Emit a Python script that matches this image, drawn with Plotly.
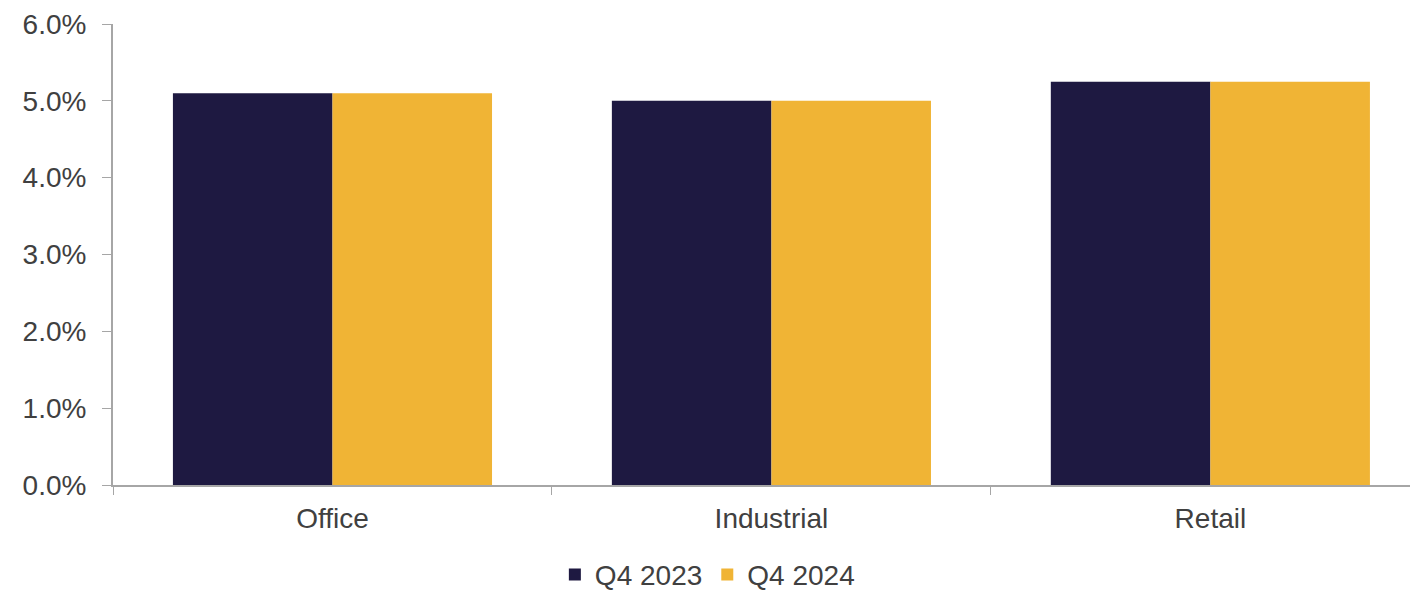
import plotly.graph_objects as go

categories = ["Office", "Industrial", "Retail"]
q4_2023 = [5.10, 5.00, 5.25]
q4_2024 = [5.10, 5.00, 5.25]
y_ticks = [0, 1, 2, 3, 4, 5, 6]
y_tick_labels = ["0.0%", "1.0%", "2.0%", "3.0%", "4.0%", "5.0%", "6.0%"]

font = dict(family="Liberation Sans, Arial, sans-serif", size=28, color="#404040")

fig = go.Figure()
fig.add_trace(go.Bar(name="Q4 2023", x=categories, y=q4_2023, marker=dict(color="#1e1941", line=dict(width=0))))
fig.add_trace(go.Bar(name="Q4 2024", x=categories, y=q4_2024, marker=dict(color="#f0b435", line=dict(width=0))))

fig.update_layout(
    width=1410, height=582,
    margin=dict(l=105, r=0, t=16, b=105, autoexpand=False),
    paper_bgcolor="white", plot_bgcolor="white",
    barmode="group", bargap=0.273, bargroupgap=0,
    font=font,
    legend=dict(orientation="h", xref="container", yref="container", x=0.496, xanchor="center",
                y=0.026, yanchor="middle", font=font, itemwidth=30, tracegroupgap=0),
)
fig.update_xaxes(range=[-0.5, 2.473], showline=True, linecolor="#a6a6a6", linewidth=2,
                 ticks="outside", tickson="boundaries", ticklen=8, tickcolor="#a6a6a6",
                 showgrid=False, tickfont=font, ticklabelstandoff=7)
fig.update_yaxes(range=[0, 6], tickvals=y_ticks, ticktext=y_tick_labels, showline=True,
                 linecolor="#a6a6a6", linewidth=2, ticks="outside", ticklen=9, tickcolor="#a6a6a6",
                 showgrid=False, zeroline=False, tickfont=font, ticklabelstandoff=10)

fig.write_html("out.html")
